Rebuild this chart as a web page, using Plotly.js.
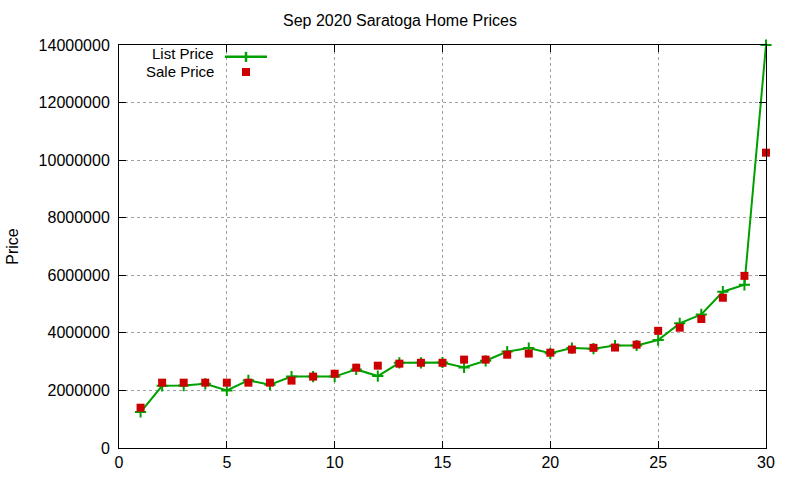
<!DOCTYPE html>
<html>
<head>
<meta charset="utf-8">
<script src="https://cdn.plot.ly/plotly-3.0.1.min.js"></script>
<style>
  html, body { margin: 0; padding: 0; background: #fff; }
  #chart { width: 800px; height: 480px; }
</style>
</head>
<body>
<div id="chart"></div>
<script>
// day of month, Sep 2020
var days = [1, 2, 3, 4, 5, 6, 7, 8, 9, 10, 11, 12, 13, 14, 15,
            16, 17, 18, 19, 20, 21, 22, 23, 24, 25, 26, 27, 28, 29, 30];
var listPrices = [1250000, 2160000, 2170000, 2230000, 2000000, 2350000, 2200000, 2480000, 2480000, 2480000,
                  2730000, 2500000, 2960000, 2960000, 2970000, 2800000, 3030000, 3350000, 3470000, 3290000,
                  3470000, 3450000, 3560000, 3560000, 3750000, 4330000, 4640000, 5430000, 5670000, 14000000];
var salePrices = [1400000, 2270000, 2270000, 2270000, 2270000, 2270000, 2270000, 2340000, 2480000, 2580000,
                  2790000, 2860000, 2930000, 2960000, 2960000, 3070000, 3070000, 3240000, 3280000, 3310000,
                  3420000, 3480000, 3490000, 3590000, 4070000, 4180000, 4480000, 5220000, 5980000, 10260000];
var chartTitle = 'Sep 2020 Saratoga Home Prices';
var yLabel = 'Price';
var seriesNames = ['List Price', 'Sale Price'];

var green = '#00a000';
var red = '#cc0000';
var font = 'Liberation Sans, Arial, sans-serif';

var listTrace = {
    x: days,
    y: listPrices,
    type: 'scatter',
    mode: 'lines+markers',
    name: seriesNames[0],
    line: { color: green, width: 2 },
    marker: { symbol: 'cross-thin', size: 8, line: { color: green, width: 2 } },
    cliponaxis: false
};

var saleTrace = {
    x: days,
    y: salePrices,
    type: 'scatter',
    mode: 'markers',
    name: seriesNames[1],
    marker: { symbol: 'square', size: 8, color: red },
    cliponaxis: false
};

var axisCommon = {
    showline: true,
    linecolor: '#000',
    linewidth: 1,
    mirror: 'allticks',
    ticks: 'inside',
    ticklen: 7,
    tickcolor: '#000',
    showgrid: true,
    gridcolor: '#a0a0a0',
    griddash: 'dot',
    gridwidth: 1,
    zeroline: false,
    tickfont: { family: font, size: 16, color: '#000' }
};

var layout = {
    width: 800,
    height: 480,
    margin: { l: 119, r: 34, t: 45, b: 32 },
    paper_bgcolor: '#fff',
    plot_bgcolor: '#fff',
    showlegend: false,
    font: { family: font, size: 16, color: '#000' },
    title: { text: chartTitle, x: 0.5, xanchor: 'center', y: 0.958, yanchor: 'middle',
             font: { family: font, size: 16, color: '#000' } },
    xaxis: Object.assign({}, axisCommon, { range: [0, 30], dtick: 5, tick0: 0 }),
    yaxis: Object.assign({}, axisCommon, { range: [0, 14000000], dtick: 2000000, tickformat: 'd',
                                           ticklabelstandoff: 5 }),
    annotations: [
        { text: yLabel, xref: 'paper', yref: 'paper', x: -0.165, y: 0.5, textangle: -90,
          showarrow: false, xanchor: 'center', yanchor: 'middle', font: { family: font, size: 16 } },
        { text: seriesNames[0], xref: 'paper', yref: 'paper', x: 0.15, y: 0.9777,
          showarrow: false, xanchor: 'right', yanchor: 'middle', font: { family: font, size: 15 } },
        { text: seriesNames[1], xref: 'paper', yref: 'paper', x: 0.15, y: 0.9342,
          showarrow: false, xanchor: 'right', yanchor: 'middle', font: { family: font, size: 15 } }
    ],
    shapes: [
        // legend samples
        { type: 'line', xref: 'paper', yref: 'paper', x0: 0.1638, x1: 0.2287, y0: 0.971, y1: 0.971,
          line: { color: green, width: 2.5 } },
        { type: 'line', xref: 'paper', yref: 'paper', x0: 0.1963, x1: 0.1963, y0: 0.958, y1: 0.983,
          line: { color: green, width: 2.5 } },
        { type: 'rect', xref: 'paper', yref: 'paper', x0: 0.1901, x1: 0.2025, y0: 0.923, y1: 0.943,
          fillcolor: red, line: { width: 0 } }
    ]
};

Plotly.newPlot('chart', [listTrace, saleTrace], layout, { displayModeBar: false, staticPlot: true });
</script>
</body>
</html>
